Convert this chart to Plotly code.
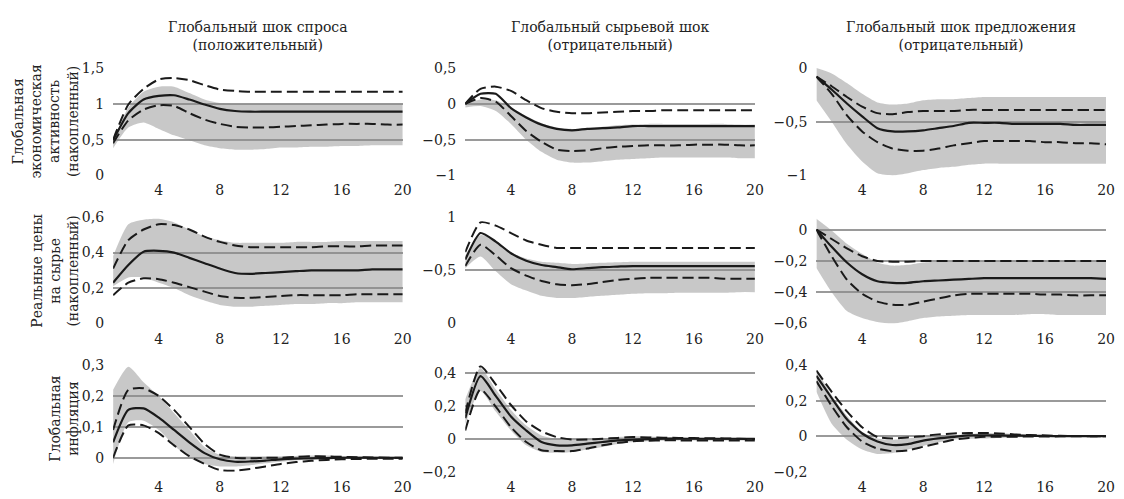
import plotly.graph_objects as go
from plotly.subplots import make_subplots

# ---------------- data ----------------
horizon = list(range(1, 21))
x_tickvals = [4, 8, 12, 16, 20]
x_ticktext = ["4", "8", "12", "16", "20"]

col_titles = ["Глобальный шок спроса<br>(положительный)",
              "Глобальный сырьевой шок<br>(отрицательный)",
              "Глобальный шок предложения<br>(отрицательный)"]
row_titles = ["Глобальная<br>экономическая<br>активность<br>(накопленный)",
              "Реальные цены<br>на сырье<br>(накопленный)",
              "Глобальная<br>инфляция"]

# Row 1: global economic activity (cumulative)
act_demand_med = [0.49, 0.87, 1.06, 1.11, 1.12, 1.06, 0.99, 0.93, 0.90, 0.89, 0.89, 0.89, 0.89, 0.89, 0.89, 0.89, 0.89, 0.89, 0.89, 0.89]
act_demand_up = [0.50, 0.99, 1.21, 1.34, 1.36, 1.33, 1.26, 1.20, 1.18, 1.17, 1.17, 1.17, 1.17, 1.17, 1.17, 1.17, 1.17, 1.17, 1.17, 1.17]
act_demand_lo = [0.45, 0.77, 0.92, 0.98, 0.97, 0.87, 0.78, 0.72, 0.68, 0.67, 0.67, 0.68, 0.69, 0.70, 0.71, 0.72, 0.72, 0.72, 0.71, 0.71]
act_demand_bhi = [0.47, 0.95, 1.17, 1.24, 1.24, 1.15, 1.06, 1.01, 1.00, 1.00, 1.00, 1.00, 1.00, 1.00, 1.00, 1.00, 1.00, 1.00, 1.00, 1.00]
act_demand_blo = [0.38, 0.67, 0.74, 0.65, 0.56, 0.49, 0.42, 0.38, 0.36, 0.36, 0.37, 0.39, 0.39, 0.40, 0.40, 0.41, 0.41, 0.42, 0.42, 0.42]

act_comm_med = [0.0, 0.14, 0.14, -0.06, -0.19, -0.29, -0.35, -0.37, -0.35, -0.34, -0.33, -0.31, -0.31, -0.31, -0.31, -0.31, -0.31, -0.31, -0.31, -0.31]
act_comm_up = [0.0, 0.21, 0.24, 0.18, 0.05, -0.06, -0.11, -0.13, -0.13, -0.12, -0.11, -0.10, -0.10, -0.09, -0.09, -0.09, -0.09, -0.09, -0.09, -0.09]
act_comm_lo = [0.0, 0.08, 0.03, -0.17, -0.38, -0.53, -0.64, -0.66, -0.65, -0.62, -0.60, -0.59, -0.58, -0.58, -0.58, -0.57, -0.57, -0.57, -0.58, -0.58]
act_comm_bhi = [0.0, 0.06, 0.05, -0.05, -0.17, -0.27, -0.33, -0.35, -0.34, -0.32, -0.30, -0.29, -0.28, -0.28, -0.28, -0.28, -0.28, -0.28, -0.29, -0.29]
act_comm_blo = [-0.05, -0.03, -0.10, -0.28, -0.50, -0.67, -0.78, -0.82, -0.82, -0.80, -0.78, -0.77, -0.76, -0.75, -0.75, -0.75, -0.75, -0.75, -0.76, -0.76]

act_supply_med = [-0.08, -0.20, -0.33, -0.45, -0.56, -0.59, -0.59, -0.58, -0.56, -0.54, -0.51, -0.51, -0.51, -0.52, -0.52, -0.52, -0.52, -0.53, -0.53, -0.53]
act_supply_up = [-0.08, -0.17, -0.27, -0.36, -0.42, -0.43, -0.41, -0.40, -0.40, -0.40, -0.39, -0.39, -0.39, -0.39, -0.39, -0.39, -0.39, -0.39, -0.39, -0.39]
act_supply_lo = [-0.08, -0.24, -0.44, -0.59, -0.69, -0.75, -0.77, -0.77, -0.75, -0.72, -0.70, -0.68, -0.68, -0.68, -0.68, -0.69, -0.69, -0.70, -0.70, -0.71]
act_supply_bhi = [0.0, -0.05, -0.14, -0.24, -0.32, -0.34, -0.33, -0.30, -0.29, -0.29, -0.28, -0.27, -0.27, -0.27, -0.27, -0.27, -0.27, -0.27, -0.27, -0.27]
act_supply_blo = [-0.30, -0.50, -0.71, -0.87, -0.98, -1.00, -0.98, -0.95, -0.93, -0.92, -0.90, -0.89, -0.89, -0.89, -0.89, -0.89, -0.89, -0.89, -0.89, -0.89]

# Row 2: real commodity prices (cumulative)
price_demand_med = [0.23, 0.33, 0.405, 0.41, 0.40, 0.37, 0.34, 0.31, 0.285, 0.28, 0.285, 0.29, 0.295, 0.30, 0.30, 0.30, 0.30, 0.305, 0.305, 0.305]
price_demand_up = [0.31, 0.47, 0.53, 0.56, 0.555, 0.53, 0.49, 0.46, 0.44, 0.43, 0.43, 0.43, 0.43, 0.43, 0.435, 0.435, 0.435, 0.44, 0.44, 0.44]
price_demand_lo = [0.16, 0.23, 0.255, 0.25, 0.23, 0.205, 0.18, 0.155, 0.145, 0.145, 0.15, 0.155, 0.16, 0.16, 0.16, 0.16, 0.165, 0.165, 0.165, 0.165]
price_demand_bhi = [0.38, 0.56, 0.585, 0.59, 0.57, 0.53, 0.49, 0.47, 0.455, 0.455, 0.455, 0.455, 0.46, 0.46, 0.46, 0.465, 0.465, 0.465, 0.465, 0.465]
price_demand_blo = [0.21, 0.26, 0.26, 0.23, 0.20, 0.16, 0.13, 0.105, 0.095, 0.095, 0.10, 0.105, 0.11, 0.11, 0.115, 0.115, 0.12, 0.12, 0.12, 0.12]

price_comm_med = [0.60, 0.85, 0.77, 0.66, 0.59, 0.55, 0.53, 0.51, 0.52, 0.53, 0.535, 0.54, 0.54, 0.54, 0.54, 0.54, 0.54, 0.54, 0.54, 0.54]
price_comm_up = [0.67, 0.95, 0.92, 0.85, 0.78, 0.74, 0.71, 0.71, 0.71, 0.71, 0.71, 0.71, 0.71, 0.71, 0.71, 0.71, 0.71, 0.71, 0.71, 0.71]
price_comm_lo = [0.54, 0.74, 0.64, 0.52, 0.45, 0.40, 0.37, 0.36, 0.37, 0.39, 0.41, 0.42, 0.43, 0.43, 0.43, 0.43, 0.43, 0.42, 0.42, 0.42]
price_comm_bhi = [0.64, 0.83, 0.78, 0.67, 0.61, 0.58, 0.57, 0.56, 0.565, 0.57, 0.575, 0.58, 0.58, 0.58, 0.58, 0.58, 0.58, 0.58, 0.58, 0.58]
price_comm_blo = [0.52, 0.63, 0.49, 0.37, 0.31, 0.26, 0.24, 0.24, 0.25, 0.26, 0.27, 0.28, 0.285, 0.285, 0.29, 0.29, 0.29, 0.29, 0.295, 0.295]

price_supply_med = [0.0, -0.11, -0.21, -0.285, -0.33, -0.34, -0.34, -0.33, -0.325, -0.32, -0.315, -0.31, -0.31, -0.31, -0.31, -0.31, -0.31, -0.31, -0.31, -0.315]
price_supply_up = [0.0, -0.06, -0.12, -0.17, -0.20, -0.205, -0.205, -0.20, -0.20, -0.20, -0.20, -0.20, -0.20, -0.20, -0.20, -0.20, -0.20, -0.20, -0.20, -0.20]
price_supply_lo = [0.0, -0.17, -0.32, -0.41, -0.46, -0.48, -0.48, -0.46, -0.44, -0.42, -0.41, -0.41, -0.41, -0.41, -0.41, -0.415, -0.415, -0.42, -0.42, -0.42]
price_supply_bhi = [0.07, -0.005, -0.09, -0.155, -0.21, -0.23, -0.225, -0.21, -0.205, -0.20, -0.20, -0.20, -0.20, -0.20, -0.20, -0.20, -0.20, -0.20, -0.20, -0.20]
price_supply_blo = [-0.245, -0.40, -0.52, -0.565, -0.59, -0.60, -0.585, -0.565, -0.555, -0.55, -0.545, -0.545, -0.545, -0.545, -0.54, -0.54, -0.545, -0.545, -0.545, -0.545]

# Row 3: global inflation
infl_demand_med = [0.05, 0.155, 0.16, 0.13, 0.09, 0.05, 0.015, -0.005, -0.013, -0.012, -0.009, -0.005, -0.003, -0.002, -0.001, 0.0, 0.0, 0.0, 0.0, 0.0]
infl_demand_up = [0.09, 0.22, 0.225, 0.20, 0.155, 0.10, 0.045, 0.01, 0.0, -0.002, 0.0, 0.0, 0.003, 0.005, 0.004, 0.003, 0.002, 0.001, 0.0, 0.0]
infl_demand_lo = [0.0, 0.105, 0.105, 0.08, 0.04, 0.005, -0.02, -0.04, -0.042, -0.036, -0.028, -0.02, -0.014, -0.01, -0.007, -0.005, -0.004, -0.003, -0.003, -0.003]
infl_demand_bhi = [0.22, 0.295, 0.245, 0.20, 0.145, 0.09, 0.035, 0.01, 0.005, 0.005, 0.005, 0.005, 0.006, 0.007, 0.007, 0.006, 0.005, 0.004, 0.003, 0.003]
infl_demand_blo = [-0.02, 0.115, 0.12, 0.09, 0.04, 0.0, -0.02, -0.028, -0.028, -0.024, -0.018, -0.013, -0.009, -0.005, -0.005, -0.004, -0.004, -0.004, -0.004, -0.004]

infl_comm_med = [0.125, 0.38, 0.26, 0.135, 0.05, -0.02, -0.04, -0.04, -0.03, -0.02, -0.01, -0.005, -0.002, 0.0, 0.0, 0.0, 0.0, 0.0, 0.0, 0.0]
infl_comm_up = [0.155, 0.44, 0.33, 0.205, 0.105, 0.045, 0.01, -0.005, -0.005, 0.0, 0.005, 0.01, 0.008, 0.006, 0.005, 0.004, 0.003, 0.002, 0.0, -0.002]
infl_comm_lo = [0.05, 0.30, 0.195, 0.07, -0.02, -0.07, -0.075, -0.075, -0.06, -0.04, -0.025, -0.015, -0.012, -0.01, -0.01, -0.01, -0.01, -0.01, -0.01, -0.01]
infl_comm_bhi = [0.24, 0.43, 0.30, 0.175, 0.08, 0.02, 0.0, -0.005, -0.002, 0.0, 0.01, 0.015, 0.013, 0.01, 0.008, 0.006, 0.005, 0.004, 0.003, 0.002]
infl_comm_blo = [0.09, 0.29, 0.165, 0.05, -0.04, -0.08, -0.085, -0.08, -0.065, -0.05, -0.032, -0.02, -0.015, -0.012, -0.01, -0.01, -0.01, -0.01, -0.01, -0.01]

infl_supply_med = [0.34, 0.215, 0.095, 0.015, -0.03, -0.05, -0.045, -0.025, -0.013, -0.004, 0.004, 0.005, 0.004, 0.003, 0.002, 0.001, 0.0, 0.0, 0.0, 0.0]
infl_supply_up = [0.37, 0.25, 0.14, 0.05, -0.005, -0.013, -0.007, 0.0, 0.01, 0.015, 0.018, 0.018, 0.015, 0.01, 0.006, 0.004, 0.002, 0.001, 0.0, 0.0]
infl_supply_lo = [0.31, 0.17, 0.05, -0.03, -0.07, -0.085, -0.08, -0.06, -0.04, -0.02, -0.01, -0.004, -0.003, -0.003, -0.002, -0.002, -0.001, -0.001, -0.001, -0.001]
infl_supply_bhi = [0.375, 0.23, 0.115, 0.025, -0.013, -0.02, -0.013, 0.0, 0.003, 0.005, 0.012, 0.018, 0.016, 0.012, 0.008, 0.005, 0.003, 0.002, 0.001, 0.0]
infl_supply_blo = [0.25, 0.07, -0.02, -0.075, -0.10, -0.095, -0.075, -0.055, -0.035, -0.02, -0.015, -0.013, -0.01, -0.007, -0.005, -0.004, -0.003, -0.003, -0.002, -0.002]

# y-axis ranges and tick labels per panel (row, col)
y_ranges = {
    (1, 1): [0, 1.5], (1, 2): [-1, 0.5], (1, 3): [-1, 0],
    (2, 1): [0, 0.6], (2, 2): [0, 1], (2, 3): [-0.6, 0.08],
    (3, 1): [-0.045, 0.3], (3, 2): [-0.2, 0.447], (3, 3): [-0.2, 0.4],
}
y_tickvals = {
    (1, 1): [0, 0.5, 1, 1.5], (1, 2): [-1, -0.5, 0, 0.5], (1, 3): [-1, -0.5, 0],
    (2, 1): [0, 0.2, 0.4, 0.6], (2, 2): [0, 0.5, 1], (2, 3): [-0.6, -0.4, -0.2, 0],
    (3, 1): [-0.045, 0, 0.1, 0.2, 0.3], (3, 2): [-0.2, 0, 0.2, 0.4], (3, 3): [-0.2, 0, 0.2, 0.4],
}
y_ticktext = {
    (1, 1): ["0", "0,5", "1", "1,5"], (1, 2): ["−1", "−0,5", "0", "0,5"], (1, 3): ["−1", "−0,5", "0"],
    (2, 1): ["0", "0,2", "0,4", "0,6"], (2, 2): ["0", "−0,5", "1"], (2, 3): ["−0,6", "−0,4", "−0,2", "0"],
    (3, 1): ["", "0", "0,1", "0,2", "0,3"], (3, 2): ["−0,2", "0", "0,2", "0,4"], (3, 3): ["−0,2", "0", "0,2", "0,4"],
}

panels = {
    (1, 1): (act_demand_med, act_demand_up, act_demand_lo, act_demand_bhi, act_demand_blo),
    (1, 2): (act_comm_med, act_comm_up, act_comm_lo, act_comm_bhi, act_comm_blo),
    (1, 3): (act_supply_med, act_supply_up, act_supply_lo, act_supply_bhi, act_supply_blo),
    (2, 1): (price_demand_med, price_demand_up, price_demand_lo, price_demand_bhi, price_demand_blo),
    (2, 2): (price_comm_med, price_comm_up, price_comm_lo, price_comm_bhi, price_comm_blo),
    (2, 3): (price_supply_med, price_supply_up, price_supply_lo, price_supply_bhi, price_supply_blo),
    (3, 1): (infl_demand_med, infl_demand_up, infl_demand_lo, infl_demand_bhi, infl_demand_blo),
    (3, 2): (infl_comm_med, infl_comm_up, infl_comm_lo, infl_comm_bhi, infl_comm_blo),
    (3, 3): (infl_supply_med, infl_supply_up, infl_supply_lo, infl_supply_bhi, infl_supply_blo),
}

# ---------------- layout geometry / style ----------------
W, H = 1124, 499
col_px = [(114, 406), (469, 761), (823, 1115)]
row_px = [(62, 173), (216, 326), (369, 479)]
FONT = "DejaVu Serif"
GRID = "#9a9a9a"
BAND = "rgba(140,140,140,0.48)"
SMOOTH = 0.6

fig = make_subplots(rows=3, cols=3)

for (r, c), (med, up, lo, bhi, blo) in panels.items():
    fig.add_trace(go.Scatter(x=horizon, y=blo, mode="lines", line=dict(width=0, shape="spline", smoothing=SMOOTH),
                             hoverinfo="skip", showlegend=False), row=r, col=c)
    fig.add_trace(go.Scatter(x=horizon, y=bhi, mode="lines", line=dict(width=0, shape="spline", smoothing=SMOOTH),
                             fill="tonexty", fillcolor=BAND, hoverinfo="skip", showlegend=False), row=r, col=c)
    for s in (up, lo):
        fig.add_trace(go.Scatter(x=horizon, y=s, mode="lines",
                                 line=dict(color="#1a1a1a", width=2, dash="11px,5px", shape="spline", smoothing=SMOOTH),
                                 showlegend=False), row=r, col=c)
    fig.add_trace(go.Scatter(x=horizon, y=med, mode="lines",
                             line=dict(color="#1a1a1a", width=2.2, shape="spline", smoothing=SMOOTH),
                             showlegend=False), row=r, col=c)

    x0, x1 = col_px[c - 1]
    y0, y1 = row_px[r - 1]
    fig.update_xaxes(domain=[x0 / W, x1 / W], range=[1, 20], tickvals=x_tickvals, ticktext=x_ticktext,
                     showgrid=False, zeroline=False, showline=False, ticks="", ticklabelstandoff=5,
                     tickfont=dict(family=FONT, size=14, color="#222"), row=r, col=c)
    fig.update_yaxes(domain=[1 - y1 / H, 1 - y0 / H], range=y_ranges[(r, c)],
                     tickvals=y_tickvals[(r, c)], ticktext=y_ticktext[(r, c)],
                     showgrid=True, gridcolor=GRID, gridwidth=2, zeroline=False, showline=False,
                     ticks="", ticklabelstandoff=8,
                     tickfont=dict(family=FONT, size=14, color="#222"), row=r, col=c)

annotations = []
for i, t in enumerate(col_titles):
    x0, x1 = col_px[i]
    annotations.append(dict(text=t, x=(x0 + x1) / 2 / W, y=1 - 29 / H, xref="paper", yref="paper",
                            xanchor="center", yanchor="middle", showarrow=False,
                            font=dict(family=FONT, size=14, color="#222")))
for i, t in enumerate(row_titles):
    y0, y1 = row_px[i]
    annotations.append(dict(text=t, x=84 / W, y=1 - (y0 + y1) / 2 / H, xref="paper", yref="paper",
                            xanchor="right", yanchor="middle", textangle=-90, showarrow=False,
                            font=dict(family=FONT, size=14, color="#222")))

fig.update_layout(width=W, height=H, margin=dict(l=0, r=0, t=0, b=0),
                  paper_bgcolor="white", plot_bgcolor="white", showlegend=False,
                  font=dict(family=FONT),
                  annotations=annotations)

fig.write_html("out.html")
